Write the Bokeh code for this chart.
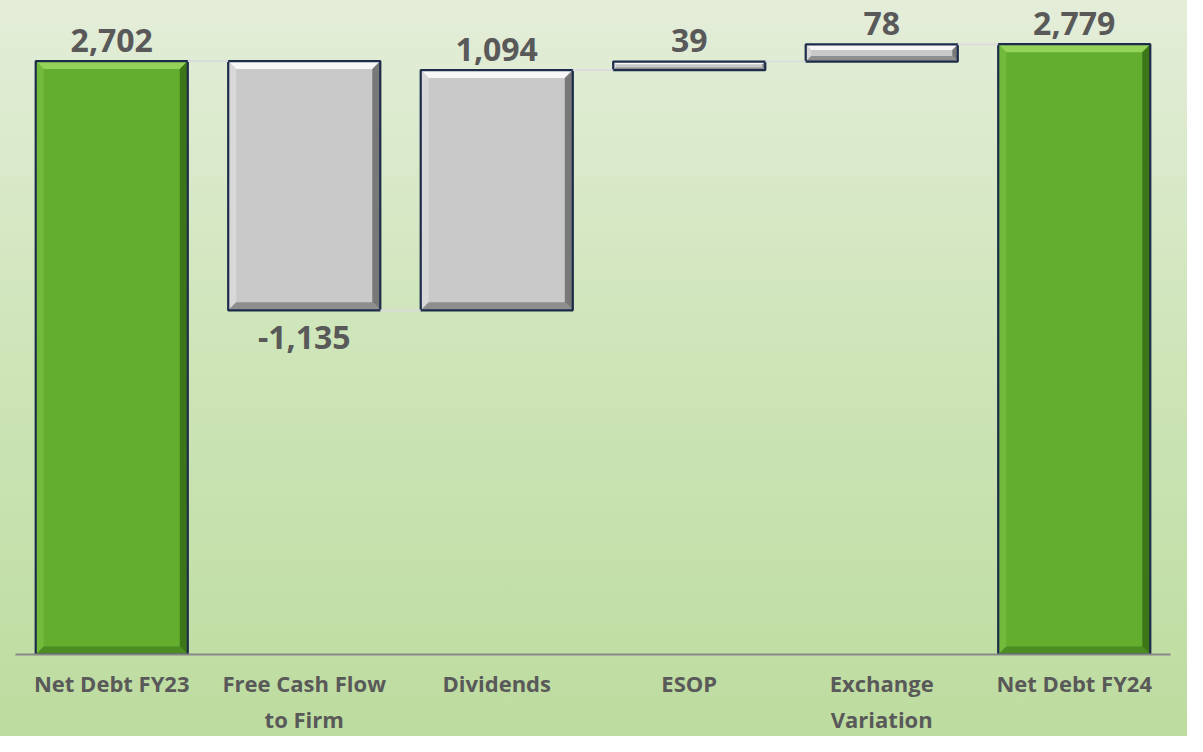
from bokeh.plotting import figure
from bokeh.models import Range1d, FixedTicker
from bokeh.core.properties import value
from bokeh.embed import file_html
from bokeh.resources import INLINE

# ---- data ----
categories = ["Net Debt FY23", "Free Cash Flow\nto Firm", "Dividends", "ESOP",
              "Exchange\nVariation", "Net Debt FY24"]
values = [2702, -1135, 1094, 39, 78, 2779]
is_total = [True, False, False, False, False, True]

# ---- waterfall geometry derived from data ----
bottoms, tops = [], []
running = 0
for v, tot in zip(values, is_total):
    if tot:
        b, t = 0, v
        running = v
    else:
        start = running
        running = running + v
        b, t = min(start, running), max(start, running)
    bottoms.append(b)
    tops.append(t)

n = len(categories)
centers = [i + 0.5 for i in range(n)]
half = 0.395
YMAX = 2978

p = figure(width=1187, height=736, output_backend="svg", toolbar_location=None,
           x_range=Range1d(0, n), y_range=Range1d(0, YMAX),
           min_border_left=15, min_border_right=17, min_border_top=0, min_border_bottom=10)
p.background_fill_alpha = 0
p.border_fill_alpha = 0
p.outline_line_color = None
p.styles = {"background": "linear-gradient(180deg, #e4edd9 0%, #cfe5ba 45%, #bddc9f 100%)"}
p.grid.visible = False
p.yaxis.visible = False

ax = p.xaxis[0]
ax.ticker = FixedTicker(ticks=centers)
ax.major_label_overrides = {c: lab for c, lab in zip(centers, categories)}
ax.major_tick_line_color = None
ax.minor_tick_line_color = None
ax.axis_line_color = "#878787"
ax.axis_line_width = 2
ax.major_label_standoff = 7
ax.major_label_text_font = "Open Sans"
ax.major_label_text_font_style = "bold"
ax.major_label_text_font_size = "22px"
ax.major_label_text_color = "#595959"

# pixel scale for bevels
px_y = YMAX / 654.0
px_x = n / 1155.0

green = dict(fill="#63ae2f", top="#93d35a", left="#72bb3a", right="#3c7619", bottom="#4b8c23")
grey = dict(fill="#c9c9c9", top="#f7f7f7", left="#d8d8d8", right="#787878", bottom="#8e8e8e")

bx_list, by_list = [], []
for i in range(n):
    h = tops[i] - bottoms[i]
    by = min(8 * px_y, h * 0.32)
    bx = (by / px_y) * px_x
    bx_list.append(bx)
    by_list.append(by)

# main fills
p.quad(left=[c - half for c in centers], right=[c + half for c in centers],
       bottom=bottoms, top=tops,
       fill_color=[green["fill"] if t else grey["fill"] for t in is_total],
       line_color=None)

# bevel facets
for key in ["top", "left", "right", "bottom"]:
    xs, ys, cols = [], [], []
    for i in range(n):
        c, b, t = centers[i], bottoms[i], tops[i]
        x0, x1 = c - half, c + half
        bx, by = bx_list[i], by_list[i]
        pal = green if is_total[i] else grey
        if key == "top":
            xs.append([x0, x1, x1 - bx, x0 + bx]); ys.append([t, t, t - by, t - by])
        elif key == "bottom":
            xs.append([x0, x1, x1 - bx, x0 + bx]); ys.append([b, b, b + by, b + by])
        elif key == "left":
            xs.append([x0, x0, x0 + bx, x0 + bx]); ys.append([b, t, t - by, b + by])
        else:
            xs.append([x1, x1, x1 - bx, x1 - bx]); ys.append([b, t, t - by, b + by])
        cols.append(pal[key])
    p.patches(xs=xs, ys=ys, fill_color=cols, line_color=None)

# outlines
p.quad(left=[c - half for c in centers], right=[c + half for c in centers],
       bottom=bottoms, top=tops, fill_color=None, line_color="#1d2c4a", line_width=2.2)

# connectors
levels = []
running = 0
for v, tot in zip(values, is_total):
    running = v if tot else running + v
    levels.append(running)
p.segment(x0=[centers[i] + half for i in range(n - 1)],
          y0=[levels[i] for i in range(n - 1)],
          x1=[centers[i + 1] - half for i in range(n - 1)],
          y1=[levels[i] for i in range(n - 1)],
          line_color="#d9d9df", line_width=1.6)

# data labels
labels = [f"{v:,}" for v in values]
pos_idx = [i for i in range(n) if values[i] >= 0 or is_total[i]]
neg_idx = [i for i in range(n) if not (values[i] >= 0 or is_total[i])]
common = dict(text_font=value("Open Sans"), text_font_style="bold", text_font_size="32px",
              text_color="#595959", text_align="center", text_baseline="alphabetic")
p.text(x=[centers[i] for i in pos_idx], y=[tops[i] for i in pos_idx],
       text=[labels[i] for i in pos_idx], y_offset=-21, **common)
p.text(x=[centers[i] for i in neg_idx], y=[bottoms[i] for i in neg_idx],
       text=[labels[i] for i in neg_idx], y_offset=27, **common)

open("out.html", "w").write(file_html(p, INLINE))
